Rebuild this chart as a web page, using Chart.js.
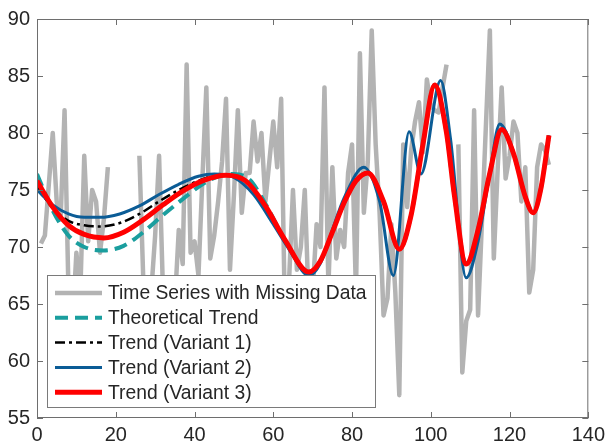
<!DOCTYPE html>
<html lang="en">
<head>
<meta charset="UTF-8">
<title>Time Series Trends</title>
<style>
  body { margin: 0; background: #fff; }
  #wrap { width: 610px; height: 444px; }
</style>
</head>
<body>
<div id="wrap"><canvas id="trendChart" width="610" height="444"></canvas></div>
<script src="https://cdn.jsdelivr.net/npm/chart.js"></script>
<script>
// raw series, one sample per step (null = missing)
const seriesValues = [
  70.3, 71.0, 75.5, 80.0, 74.0, 72.5, 82.0, 66.0, 63.0, 69.5,
  66.0, 78.0, 70.5, 75.0, 74.0, 69.5, 72.5, 77.0, null, null,
  null, null, null, null, null, 78.0, 67.0, 64.0, 66.0, 71.0,
  78.0, 66.0, 63.0, 67.0, 65.0, 71.5, 68.5, 86.0, 69.5, 70.5,
  67.5, 76.0, 84.0, 69.0, 71.0, 74.0, 77.5, 83.0, 68.0, 74.5,
  82.0, 73.0, 76.5, 76.5, 81.0, 77.5, 80.0, 74.0, 77.5, 81.0,
  77.0, 83.0, 63.0, 67.0, 75.0, 68.0, 70.0, 75.0, 65.0, 66.0,
  72.0, 70.0, 84.0, 66.5, 77.0, 69.0, 71.5, 70.0, 76.5, 79.0,
  66.0, 87.0, 73.0, 77.5, 89.0, 79.0, 73.0, 64.0, 65.5, 72.0,
  66.0, 57.0, 79.0, 73.5, 78.5, 81.0, 82.7, 78.3, 84.7, 82.4,
  82.0, 81.8, 84.0, 86.0, null, null, 79.0, 59.0, 63.5, 64.5,
  82.0, 64.0, 72.3, 80.7, 89.0, 69.0, 77.0, 84.0, 76.0, 78.0,
  81.0, 80.0, 74.0, 77.0, 66.0, 68.0, 77.0, 79.0, 78.5, 77.2
];
const seriesTime = seriesValues.map((_, i) => i + 1);

// smooth trend curves, sampled at their own knots
const theoreticalT = [0, 4, 8, 12, 17, 22, 27, 32, 37, 42, 46, 50, 54, 58, 63, 69, 72, 75, 78, 81, 84, 88, 92, 95, 98, 101, 104, 106, 109, 112, 115, 118, 121, 124, 126, 128, 130];
const theoreticalV = [76.4, 73.2, 71.0, 70.0, 69.7, 70.1, 71.3, 72.8, 74.2, 75.5, 76.2, 76.4, 75.9, 73.8, 70.6, 67.8, 68.8, 71.3, 73.9, 75.8, 76.5, 74.0, 69.8, 72.8, 79.0, 84.2, 80.0, 74.5, 68.5, 71.5, 76.5, 80.3, 78.2, 74.4, 73.0, 75.2, 79.8];

const variant1T = [0, 4, 8, 12, 16, 21, 26, 31, 36, 41, 46, 50, 54, 58, 63, 69, 72, 75, 78, 81, 84, 88, 92, 95, 98, 101, 104, 106, 109, 112, 115, 118, 121, 124, 126, 128, 130];
const variant1V = [75.3, 73.4, 72.3, 71.9, 71.8, 72.1, 72.9, 74.0, 75.0, 75.8, 76.3, 76.3, 75.5, 73.6, 70.6, 67.8, 68.8, 71.3, 73.9, 75.8, 76.5, 74.0, 69.8, 72.8, 79.0, 84.2, 80.0, 74.5, 68.5, 71.5, 76.5, 80.3, 78.2, 74.4, 73.0, 75.2, 79.8];

const variant2T = [0, 4, 8, 12, 16, 21, 26, 31, 36, 41, 45, 50, 55, 60, 64, 69, 72, 75, 78, 83, 87, 90.5, 94.5, 97.5, 102.5, 105, 109, 112, 115, 117.5, 121, 124, 126, 128, 130];
const variant2V = [75.0, 73.7, 72.9, 72.6, 72.6, 72.9, 73.6, 74.6, 75.5, 76.2, 76.4, 76.1, 74.6, 72.0, 69.8, 67.5, 68.6, 71.5, 74.3, 77.0, 74.0, 67.5, 80.1, 76.4, 84.6, 79.5, 67.3, 70.5, 76.5, 80.8, 78.3, 74.3, 73.0, 75.2, 79.8];

const variant3T = [0, 4, 8, 12, 17, 22, 27, 32, 37, 42, 48, 53, 58, 63, 69, 72, 75, 78, 81, 84, 88, 92, 95, 98, 101, 104, 106, 109, 112, 115, 118, 121, 124, 126, 128, 130];
const variant3V = [75.8, 73.5, 71.9, 71.1, 70.8, 71.3, 72.4, 73.7, 74.9, 75.8, 76.3, 75.8, 73.6, 70.6, 67.8, 68.8, 71.3, 73.9, 75.8, 76.5, 74.0, 69.8, 72.8, 79.0, 84.2, 80.0, 74.5, 68.5, 71.5, 76.5, 80.3, 78.2, 74.4, 73.0, 75.2, 79.8];

const xTicks = [0, 20, 40, 60, 80, 100, 120, 140];
const yTicks = [55, 60, 65, 70, 75, 80, 85, 90];

const GRAY = '#b3b3b3';
const TEAL = '#1a9e9e';
const BLACK = '#000000';
const BLUE = '#0b5c96';
const RED = '#ff0000';
const TEXT = '#262626';
const FONT = '"Liberation Sans", Arial, Helvetica, sans-serif';

const pts = (ts, vs) => ts.map((t, i) => ({ x: t, y: vs[i] }));

const datasets = [
  { label: 'Time Series with Missing Data', data: pts(seriesTime, seriesValues),
    borderColor: GRAY, borderWidth: 4.5, tension: 0, spanGaps: false, order: 4 },
  { label: 'Theoretical Trend', data: pts(theoreticalT, theoreticalV),
    borderColor: TEAL, borderWidth: 4, borderDash: [13, 7], cubicInterpolationMode: 'monotone', order: 3 },
  { label: 'Trend (Variant 1)', data: pts(variant1T, variant1V),
    borderColor: BLACK, borderWidth: 2.5, borderDash: [10, 4, 3, 4], cubicInterpolationMode: 'monotone', order: 2 },
  { label: 'Trend (Variant 2)', data: pts(variant2T, variant2V),
    borderColor: BLUE, borderWidth: 3, cubicInterpolationMode: 'monotone', order: 1 },
  { label: 'Trend (Variant 3)', data: pts(variant3T, variant3V),
    borderColor: RED, borderWidth: 5, cubicInterpolationMode: 'monotone', order: 0 }
];
datasets.forEach(d => { d.pointRadius = 0; d.fill = false; d.borderCapStyle = 'butt'; d.borderJoinStyle = 'round'; });

// box legend inside the axes, lower left
const boxLegend = {
  id: 'boxLegend',
  afterDatasetsDraw(chart) {
    const ctx = chart.ctx;
    ctx.save();
    ctx.fillStyle = '#fff';
    ctx.fillRect(47, 275, 329, 133);
    ctx.strokeStyle = '#7a7a7a';
    ctx.lineWidth = 1;
    ctx.strokeRect(47.5, 275.5, 328, 132);
    ctx.font = '19.3px ' + FONT;
    ctx.textBaseline = 'middle';
    ctx.fillStyle = TEXT;
    chart.data.datasets.forEach((d, i) => {
      const y = 293 + i * 24.8;
      ctx.beginPath();
      ctx.strokeStyle = d.borderColor;
      ctx.lineWidth = d.borderWidth;
      ctx.setLineDash(d.borderDash || []);
      ctx.moveTo(55, y);
      ctx.lineTo(102, y);
      ctx.stroke();
      ctx.setLineDash([]);
      ctx.fillText(d.label, 108, y + 1);
    });
    ctx.restore();
  }
};

// matlab style box with inward ticks
const axesBox = {
  id: 'axesBox',
  afterDraw(chart) {
    const { ctx, chartArea: a, scales } = chart;
    ctx.save();
    ctx.strokeStyle = '#6e6e6e';
    ctx.lineWidth = 1;
    ctx.strokeRect(a.left + 0.5, a.top + 0.5, a.right - a.left - 1, a.bottom - a.top - 1);
    const len = 6;
    ctx.beginPath();
    xTicks.forEach(v => {
      const x = Math.round(scales.x.getPixelForValue(v)) + 0.5;
      ctx.moveTo(x, a.bottom); ctx.lineTo(x, a.bottom - len);
      ctx.moveTo(x, a.top); ctx.lineTo(x, a.top + len);
    });
    yTicks.forEach(v => {
      const y = Math.round(scales.y.getPixelForValue(v)) + 0.5;
      ctx.moveTo(a.left, y); ctx.lineTo(a.left + len, y);
      ctx.moveTo(a.right, y); ctx.lineTo(a.right - len, y);
    });
    ctx.stroke();
    ctx.restore();
  }
};

new Chart(document.getElementById('trendChart'), {
  type: 'line',
  data: { datasets },
  options: {
    responsive: false,
    animation: false,
    layout: { padding: { top: 16, right: 13, left: 0, bottom: 0 } },
    plugins: { legend: { display: false }, tooltip: { enabled: false } },
    scales: {
      x: {
        type: 'linear', min: 0, max: 140,
        afterBuildTicks: s => { s.ticks = xTicks.map(v => ({ value: v })); },
        afterFit: s => { s.height = 26; },
        grid: { display: false, drawTicks: false },
        border: { display: false },
        ticks: { color: TEXT, font: { family: FONT, size: 20 }, padding: 5, maxRotation: 0, autoSkip: false }
      },
      y: {
        min: 55, max: 90,
        afterBuildTicks: s => { s.ticks = yTicks.map(v => ({ value: v })); },
        afterFit: s => { s.width = 37; },
        grid: { display: false, drawTicks: false },
        border: { display: false },
        ticks: { color: TEXT, font: { family: FONT, size: 20 }, padding: 7, autoSkip: false }
      }
    }
  },
  plugins: [boxLegend, axesBox]
});
</script>
</body>
</html>
